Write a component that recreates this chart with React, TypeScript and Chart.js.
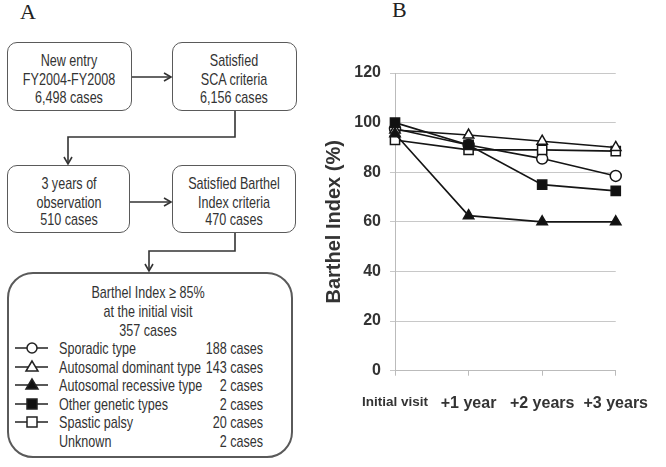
import React, { useEffect, useRef } from "react";
import { Chart, registerables } from "chart.js";

Chart.register(...registerables);

const categories = ["Initial visit", "+1 year", "+2 years", "+3 years"];
const sporadic = [97.5, 91, 85.5, 78.5];
const autosomalDominant = [97, 95, 92.5, 90];
const autosomalRecessive = [95.5, 62.5, 60, 60];
const otherGenetic = [100, 91, 75, 72.5];
const spasticPalsy = [93, 89, 89, 88.5];
const yTicks = [0, 20, 40, 60, 80, 100, 120];

const legendRows = [
  { label: "Sporadic type", count: "188 cases", marker: "circle" },
  { label: "Autosomal dominant type", count: "143 cases", marker: "triOpen" },
  { label: "Autosomal recessive type", count: "2 cases", marker: "triFill" },
  { label: "Other genetic types", count: "2 cases", marker: "sqFill" },
  { label: "Spastic palsy", count: "20 cases", marker: "sqOpen" },
  { label: "Unknown", count: "2 cases", marker: "none" },
];

const SANS = "'Liberation Sans', Arial, sans-serif";
const TXT = "#333";
const SX = 0.74;

function T({ x, y, children, align = "center", size = 17 }: any) {
  const tr =
    align === "center"
      ? `translate(-50%,-50%) scaleX(${SX})`
      : align === "right"
      ? `translate(-100%,-50%) scaleX(${SX})`
      : `translate(0,-50%) scaleX(${SX})`;
  const origin = align === "center" ? "center center" : align === "right" ? "right center" : "left center";
  return (
    <div
      style={{
        position: "absolute",
        left: x,
        top: y,
        transform: tr,
        transformOrigin: origin,
        whiteSpace: "nowrap",
        fontFamily: SANS,
        fontSize: size,
        lineHeight: 1,
        color: TXT,
      }}
    >
      {children}
    </div>
  );
}

function Box({ l, t, w, h, r = 10, bw = 1.5 }: any) {
  return (
    <div
      style={{
        position: "absolute",
        left: l,
        top: t,
        width: w,
        height: h,
        boxSizing: "border-box",
        border: `${bw}px solid #5a5a5a`,
        borderRadius: r,
      }}
    />
  );
}

function Marker({ kind, y }: any) {
  const cx = 32;
  if (kind === "none") return null;
  const els: any[] = [<line key="l" x1={15} y1={y} x2={48} y2={y} stroke="#222" strokeWidth={1.6} />];
  if (kind === "circle") els.push(<circle key="m" cx={cx} cy={y} r={5} fill="#fff" stroke="#222" strokeWidth={1.5} />);
  if (kind === "triOpen" || kind === "triFill")
    els.push(
      <polygon
        key="m"
        points={`${cx},${y - 6} ${cx - 6},${y + 4} ${cx + 6},${y + 4}`}
        fill={kind === "triFill" ? "#111" : "#fff"}
        stroke="#222"
        strokeWidth={1.5}
      />
    );
  if (kind === "sqOpen" || kind === "sqFill")
    els.push(
      <rect key="m" x={cx - 5} y={y - 5} width={10} height={10} fill={kind === "sqFill" ? "#111" : "#fff"} stroke="#222" strokeWidth={1.5} />
    );
  return <g>{els}</g>;
}

function Arrow({ d, tip, dir }: any) {
  const [x, y] = tip;
  let head = "";
  if (dir === "right") head = `M${x - 7},${y - 4} L${x},${y} L${x - 7},${y + 4}`;
  if (dir === "down") head = `M${x - 4},${y - 7} L${x},${y} L${x + 4},${y - 7}`;
  return (
    <g fill="none" stroke="#333" strokeWidth={1.6}>
      <path d={d} />
      <path d={head} />
    </g>
  );
}

function LineChart() {
  const ref = useRef<HTMLCanvasElement>(null);
  useEffect(() => {
    if (!ref.current) return;
    const common = { borderColor: "#151515", borderWidth: 1.6, pointBorderColor: "#151515", pointBorderWidth: 1.5, tension: 0 };
    const chart = new Chart(ref.current, {
      type: "line",
      data: {
        labels: categories,
        datasets: [
          { ...common, order: 5, label: "Sporadic type", data: sporadic, pointStyle: "circle", pointRadius: 5.5, pointBackgroundColor: "#fff" },
          { ...common, order: 3, label: "Autosomal dominant type", data: autosomalDominant, pointStyle: "triangle", pointRadius: 6, pointBackgroundColor: "#fff" },
          { ...common, order: 2, label: "Autosomal recessive type", data: autosomalRecessive, pointStyle: "triangle", pointRadius: 6, pointBackgroundColor: "#111" },
          { ...common, order: 1, label: "Other genetic types", data: otherGenetic, pointStyle: "rect", pointRadius: 6.5, pointBackgroundColor: "#111" },
          { ...common, order: 4, label: "Spastic palsy", data: spasticPalsy, pointStyle: "rect", pointRadius: 6.5, pointBackgroundColor: "#fff" },
        ],
      },
      options: {
        responsive: false,
        animation: false,
        devicePixelRatio: 1,
        layout: { padding: { top: 33, right: 39, left: 0, bottom: 0 } },
        plugins: { legend: { display: false }, tooltip: { enabled: false } },
        scales: {
          x: {
            type: "category",
            offset: false,
            grid: { display: true, drawOnChartArea: false, drawTicks: true, tickLength: 5, color: "#bbb" },
            border: { display: true, color: "#bbb", width: 1 },
            ticks: {
              padding: 18,
              color: TXT,
              maxRotation: 0,
              autoSkip: false,
              font: (ctx: any) =>
                ctx.index === 0 ? { family: SANS, size: 13.5, weight: "bold" } : { family: SANS, size: 16, weight: "bold" },
            },
            afterFit: (s: any) => {
              s.height = 89.3;
            },
          },
          y: {
            min: 0,
            max: 120,
            afterBuildTicks: (s: any) => {
              s.ticks = yTicks.map((v) => ({ value: v }));
            },
            grid: { color: "#c8c8c8", tickLength: 5, lineWidth: 1 },
            border: { display: true, color: "#bbb" },
            ticks: {
              padding: 9,
              color: TXT,
              font: { family: SANS, size: 16, weight: "bold" },
            },
            title: {
              display: true,
              text: "Barthel Index (%)",
              color: TXT,
              font: { family: SANS, size: 20, weight: "bold" },
              padding: { top: 2, bottom: 0 },
            },
            afterFit: (s: any) => {
              s.width = 75;
            },
          },
        },
      },
    } as any);
    return () => chart.destroy();
  }, []);
  return <canvas ref={ref} width={346} height={420} style={{ position: "absolute", left: 320, top: 40, width: 346, height: 420 }} />;
}

export default function App() {
  const rowYs = [348, 367, 385, 404, 422, 441];
  return (
    <div style={{ position: "fixed", left: 0, top: 0, width: 666, height: 467, background: "#fff", overflow: "hidden" }}>
      <div style={{ position: "absolute", left: 20, top: 1, fontFamily: "'Liberation Serif', 'Times New Roman', serif", fontSize: 22, color: "#222", lineHeight: 1 }}>A</div>
      <div style={{ position: "absolute", left: 392, top: -1, fontFamily: "'Liberation Serif', 'Times New Roman', serif", fontSize: 22, color: "#222", lineHeight: 1 }}>B</div>

      <Box l={7} t={42} w={125} h={69} />
      <Box l={172} t={42} w={125} h={69} />
      <Box l={7} t={165} w={123} h={68} />
      <Box l={172} t={165} w={124} h={68} />
      <Box l={7} t={272} w={286} h={186} r={26} bw={2.5} />

      <svg width={666} height={467} style={{ position: "absolute", left: 0, top: 0 }}>
        <Arrow d="M132,77 L171,77" tip={[171, 77]} dir="right" />
        <Arrow d="M235,111 L235,137 L68,137 L68,164" tip={[68, 164]} dir="down" />
        <Arrow d="M130,202 L171,202" tip={[171, 202]} dir="right" />
        <Arrow d="M235,233 L235,251 L149,251 L149,271" tip={[149, 271]} dir="down" />
        {legendRows.map((r, i) => (
          <Marker key={i} kind={r.marker} y={rowYs[i]} />
        ))}
      </svg>

      <T x={69} y={60}>New entry</T>
      <T x={69} y={79}>FY2004-FY2008</T>
      <T x={69} y={97}>6,498 cases</T>
      <T x={234} y={60}>Satisfied</T>
      <T x={234} y={79}>SCA criteria</T>
      <T x={234} y={97}>6,156 cases</T>
      <T x={69} y={183}>3 years of</T>
      <T x={69} y={202}>observation</T>
      <T x={69} y={219}>510 cases</T>
      <T x={234} y={183}>Satisfied Barthel</T>
      <T x={234} y={202}>Index criteria</T>
      <T x={234} y={219}>470 cases</T>

      <T x={148} y={292}>Barthel Index ≥ 85%</T>
      <T x={148} y={311}>at the initial visit</T>
      <T x={148} y={330}>357 cases</T>
      {legendRows.map((r, i) => (
        <React.Fragment key={i}>
          <T x={59} y={rowYs[i]} align="left">{r.label}</T>
          <T x={263} y={rowYs[i]} align="right">{r.count}</T>
        </React.Fragment>
      ))}

      <LineChart />
    </div>
  );
}
